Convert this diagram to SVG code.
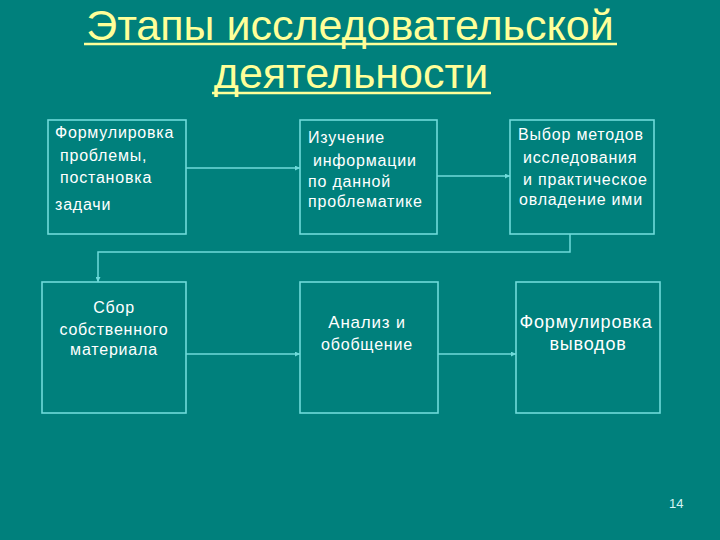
<svg xmlns="http://www.w3.org/2000/svg" width="720" height="540" viewBox="0 0 720 540">
<defs>
<style>
.bg{fill:#00807c}
.box{fill:none;stroke:#6fdada;stroke-width:1.6}
.t{font-family:"Liberation Sans",Arial,sans-serif;fill:#ffffff;font-size:16px;letter-spacing:0.8px}
.title{font-family:"Liberation Sans",Arial,sans-serif;fill:#ffff99;font-size:43px;text-anchor:middle}
.ul{stroke:#ffff99;stroke-width:2.5}
.c{fill:none;stroke:#6fdada;stroke-width:1.5}
</style>
<marker id="ah" viewBox="0 0 6 6" refX="6" refY="3" markerWidth="5" markerHeight="5" orient="auto" markerUnits="userSpaceOnUse">
<path d="M0,0 L6,3 L0,6 Z" fill="#6fdada"/>
</marker>
</defs>
<rect class="bg" x="0" y="0" width="720" height="540"/>
<g id="title">
<text class="title" x="350" y="39.5">Этапы исследовательской</text>
<line class="ul" x1="84" y1="44" x2="617" y2="44"/>
<text class="title" x="351" y="88">деятельности</text>
<line class="ul" x1="212" y1="93" x2="491" y2="93"/>
</g>
<g id="connectors">
<line class="c" x1="186" y1="168" x2="300" y2="168" marker-end="url(#ah)"/>
<line class="c" x1="437" y1="176" x2="510" y2="176" marker-end="url(#ah)"/>
<polyline class="c" points="570,234 570,252 98,252 98,282" marker-end="url(#ah)"/>
<line class="c" x1="186" y1="354" x2="300" y2="354" marker-end="url(#ah)"/>
<line class="c" x1="438" y1="354" x2="516" y2="354" marker-end="url(#ah)"/>
</g>
<g id="n1">
<rect class="box" x="48" y="120" width="138" height="114"/>
<text class="t" x="55" y="138">Формулировка</text>
<text class="t" x="60" y="161">проблемы,</text>
<text class="t" x="60" y="183">постановка</text>
<text class="t" x="55" y="210">задачи</text>
</g>
<g id="n2">
<rect class="box" x="300" y="120" width="137" height="114"/>
<text class="t" x="308" y="143">Изучение</text>
<text class="t" x="313" y="166">информации</text>
<text class="t" x="308" y="187">по данной</text>
<text class="t" x="308" y="207">проблематике</text>
</g>
<g id="n3">
<rect class="box" x="510" y="120" width="144" height="114"/>
<text class="t" x="518" y="140">Выбор методов</text>
<text class="t" x="523" y="163">исследования</text>
<text class="t" x="523" y="185">и практическое</text>
<text class="t" x="519" y="205">овладение ими</text>
</g>
<g id="n4">
<rect class="box" x="42" y="282" width="144" height="131"/>
<text class="t" x="114" y="313" text-anchor="middle">Сбор</text>
<text class="t" x="114" y="335" text-anchor="middle">собственного</text>
<text class="t" x="114" y="355" text-anchor="middle">материала</text>
</g>
<g id="n5">
<rect class="box" x="300" y="282" width="138" height="131"/>
<text class="t" x="367" y="328" text-anchor="middle" style="font-size:17px">Анализ <tspan style="font-size:16px">и</tspan></text>
<text class="t" x="367" y="350" text-anchor="middle">обобщение</text>
</g>
<g id="n6">
<rect class="box" x="516" y="282" width="144" height="131"/>
<text class="t" x="586" y="328" text-anchor="middle" style="font-size:18px">Формулировка</text>
<text class="t" x="588" y="350" text-anchor="middle" style="font-size:18px">выводов</text>
</g>
<text x="669" y="508" style="font-family:'Liberation Sans',Arial,sans-serif;font-size:13px;fill:#d8f4f4">14</text>
</svg>
